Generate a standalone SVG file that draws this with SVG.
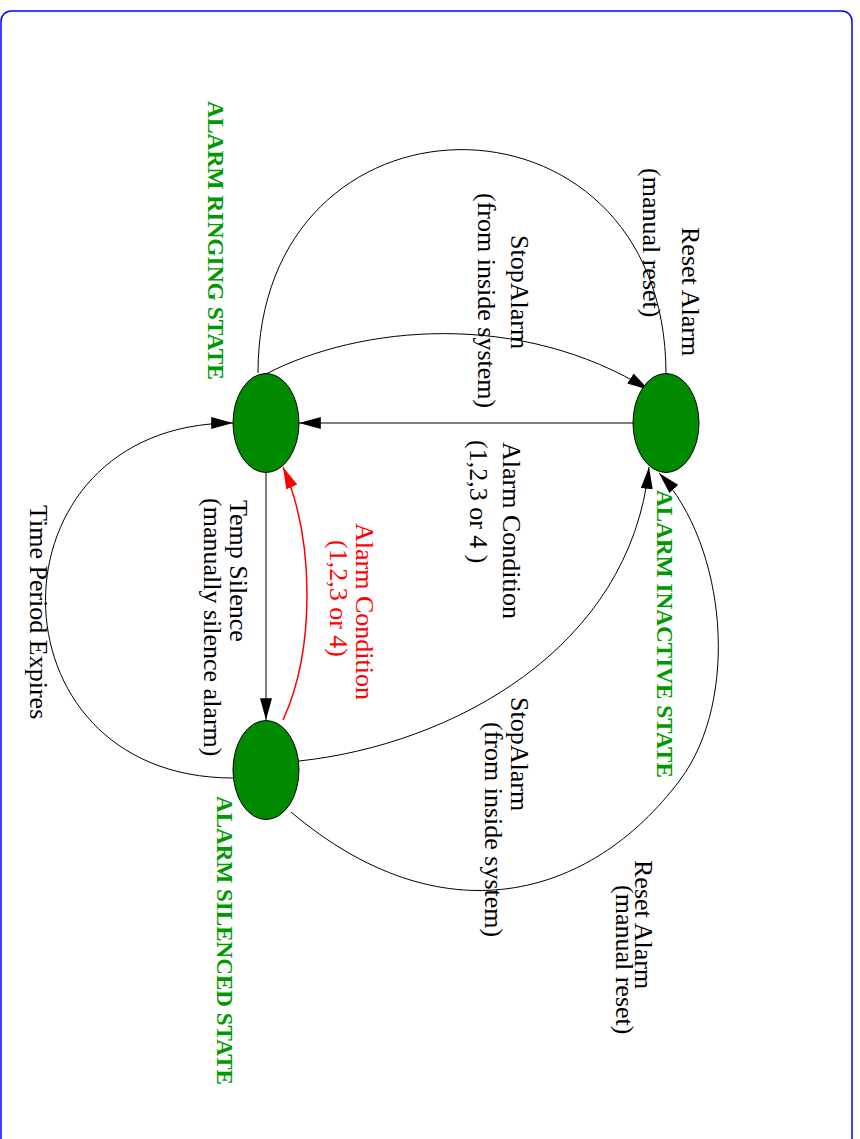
<svg xmlns="http://www.w3.org/2000/svg" width="860" height="1139" viewBox="0 0 860 1139">
<style>
.lbl{font-family:"Liberation Serif","Times New Roman",serif;font-size:26px;fill:#000}
.red{fill:#ff0000}
.st{font-family:"Liberation Serif","Times New Roman",serif;font-size:24px;font-weight:bold;fill:#009a00}
.node{fill:#008a00;stroke:#000;stroke-width:1}
.edge{fill:none;stroke:#000;stroke-width:1}
.edge.r{stroke:#ff0000;stroke-width:1.5}
</style>
<defs>
<marker id="ah" markerUnits="userSpaceOnUse" markerWidth="22" markerHeight="12" viewBox="0 0 20 11" refX="20" refY="5.5" orient="auto"><path d="M0,0 L20,5.5 L0,11 z" fill="#000"/></marker>
<marker id="ahr" markerUnits="userSpaceOnUse" markerWidth="22" markerHeight="12" viewBox="0 0 20 11" refX="20" refY="5.5" orient="auto"><path d="M0,0 L20,5.5 L0,11 z" fill="#ff0000"/></marker>
</defs>
<rect x="1" y="11" width="851" height="1160" rx="10" fill="none" stroke="#0000ff" stroke-width="1.5"/>
<g id="edges">
<path class="edge" d="M633,423 L299,423" marker-end="url(#ah)"/>
<path class="edge" d="M266,473 L266,720" marker-end="url(#ah)"/>
<path class="edge r" d="M283,720 C315,650 315,540 283,467" marker-end="url(#ahr)"/>
<path class="edge" d="M266,374 C360,325 520,310 649,390" marker-end="url(#ah)"/>
<path class="edge" d="M258,373 C258,75 666,75 666,374"/>
<path class="edge" d="M233,778 C-17,778 -17,423 233,423" marker-end="url(#ah)"/>
<path class="edge" d="M299,761 C450,745 630,650 649,467" marker-end="url(#ah)"/>
<path class="edge" d="M291,812 C441,939 590,900 680,780 C740,700 727,546 659,473" marker-end="url(#ah)"/>
</g>
<g id="edge-labels">
<text class="lbl" transform="translate(682,227) rotate(90)">Reset Alarm</text>
<text class="lbl" transform="translate(643,168) rotate(90)">(manual reset)</text>
<text class="lbl" transform="translate(511,235) rotate(90)">StopAlarm</text>
<text class="lbl" transform="translate(478,193) rotate(90)">(from inside system)</text>
<text class="lbl" transform="translate(503,442) rotate(90)">Alarm Condition</text>
<text class="lbl" transform="translate(470,440) rotate(90)">(1,2,3 or 4 )</text>
<text class="lbl" transform="translate(230,500) rotate(90)">Temp Silence</text>
<text class="lbl" transform="translate(204,498) rotate(90)">(manually silence alarm)</text>
<text class="lbl" transform="translate(30,505) rotate(90)">Time Period Expires</text>
<text class="lbl red" transform="translate(356,523) rotate(90)">Alarm Condition</text>
<text class="lbl red" transform="translate(330,540) rotate(90)">(1,2,3 or 4)</text>
<text class="lbl" transform="translate(511,697) rotate(90)">StopAlarm</text>
<text class="lbl" transform="translate(485,722) rotate(90)">(from inside system)</text>
<text class="lbl" transform="translate(635,860) rotate(90)">Reset Alarm</text>
<text class="lbl" transform="translate(616,885) rotate(90)">(manual reset)</text>
</g>
<g id="ringing">
<ellipse class="node" cx="266" cy="423" rx="33" ry="49.5"/>
<text class="st" transform="translate(208,101) rotate(90)" textLength="279" lengthAdjust="spacingAndGlyphs">ALARM RINGING STATE</text>
</g>
<g id="inactive">
<ellipse class="node" cx="666" cy="423" rx="33" ry="49.5"/>
<text class="st" transform="translate(657,490) rotate(90)" textLength="288" lengthAdjust="spacingAndGlyphs">ALARM INACTIVE STATE</text>
</g>
<g id="silenced">
<ellipse class="node" cx="266" cy="770" rx="33" ry="49.5"/>
<text class="st" transform="translate(217,796) rotate(90)" textLength="289" lengthAdjust="spacingAndGlyphs">ALARM SILENCED STATE</text>
</g>
</svg>
